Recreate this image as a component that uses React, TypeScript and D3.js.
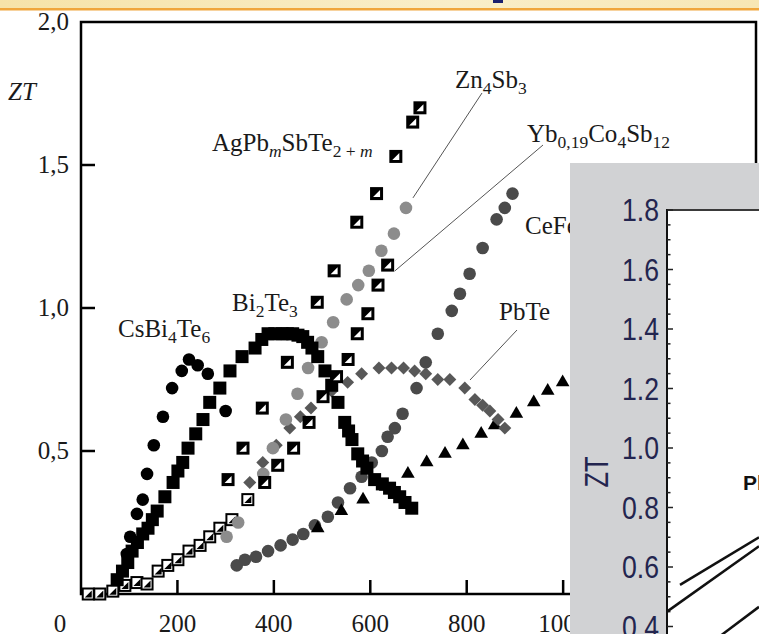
import React from 'react'
import * as d3 from 'd3'

const W = 759
const H = 634

// main chart data: [T (K), ZT]
const csBi4Te6 = [[95, 0.14], [102, 0.2], [116, 0.28], [128, 0.33], [137, 0.42], [151, 0.52], [170, 0.62], [189, 0.72], [209, 0.78], [224, 0.82], [242, 0.8], [263, 0.77], [300, 0.64]]
const bi2Te3 = [[75, 0.05], [86, 0.08], [97, 0.11], [106, 0.15], [117, 0.18], [128, 0.21], [139, 0.23], [148, 0.26], [158, 0.29], [174, 0.34], [191, 0.39], [201, 0.43], [211, 0.46], [222, 0.51], [238, 0.56], [253, 0.61], [267, 0.67], [288, 0.72], [309, 0.78], [334, 0.83], [361, 0.86], [375, 0.89], [388, 0.91], [402, 0.91], [417, 0.91], [428, 0.91], [439, 0.91], [450, 0.905], [460, 0.9], [470, 0.88], [479, 0.86], [491, 0.83], [506, 0.78], [520, 0.73], [533, 0.67], [547, 0.6], [555, 0.57], [562, 0.54], [574, 0.49], [584, 0.465], [593, 0.44], [609, 0.4], [625, 0.385], [640, 0.37], [650, 0.355], [661, 0.34], [672, 0.32], [686, 0.3]]
const lowSquares = [[15, 0], [39, 0], [66, 0.01], [91, 0.03], [116, 0.04], [137, 0.035], [160, 0.08], [180, 0.1], [201, 0.12], [224, 0.15], [247, 0.17], [267, 0.2], [288, 0.23], [313, 0.26], [346, 0.33]]
const agPbSbTe = [[305, 0.4], [336, 0.51], [376, 0.65], [428, 0.81], [490, 1.02], [525, 1.13], [572, 1.3], [613, 1.4], [653, 1.53], [688, 1.65], [703, 1.7]]
const ybCoSb = [[381, 0.39], [408, 0.45], [441, 0.51], [473, 0.6], [502, 0.69], [530, 0.76], [554, 0.82], [573, 0.91], [595, 0.98], [616, 1.08], [636, 1.15]]
const zn4Sb3 = [[302, 0.2], [326, 0.25], [378, 0.42], [398, 0.51], [425, 0.61], [449, 0.7], [471, 0.79], [499, 0.88], [523, 0.95], [551, 1.03], [575, 1.08], [597, 1.13], [623, 1.2], [649, 1.26], [674, 1.35]]
const pbTe = [[350, 0.39], [377, 0.46], [405, 0.52], [433, 0.58], [455, 0.62], [477, 0.65], [520, 0.71], [553, 0.74], [582, 0.77], [618, 0.79], [644, 0.79], [669, 0.79], [692, 0.78], [715, 0.77], [740, 0.75], [765, 0.75], [796, 0.72], [817, 0.68], [833, 0.66], [848, 0.64], [865, 0.61], [879, 0.58]]
const ceFeSb = [[323, 0.1], [340, 0.12], [363, 0.13], [388, 0.15], [414, 0.17], [439, 0.19], [461, 0.21], [485, 0.24], [512, 0.27], [533, 0.32], [558, 0.37], [582, 0.41], [603, 0.46], [624, 0.5], [636, 0.55], [651, 0.58], [667, 0.63], [696, 0.72], [715, 0.81], [740, 0.91], [769, 0.99], [786, 1.05], [806, 1.12], [833, 1.21], [862, 1.31], [879, 1.35], [895, 1.4]]
const triangles = [[491, 0.23], [540, 0.29], [585, 0.33], [632, 0.375], [678, 0.42], [717, 0.46], [755, 0.49], [792, 0.52], [830, 0.56], [858, 0.59], [903, 0.63], [939, 0.67], [968, 0.71], [999, 0.74]]

const xTicks = [200, 400, 600, 800, 1000, 1200]
const xTickLabels = [200, 400, 600, 800, 1000]
const yTicks = [0.5, 1.0, 1.5, 2.0]
const yTickLabels = ['0,5', '1,0', '1,5', '2,0']

// inset (second picture pasted over the right side)
const insetTicks = [0.4, 0.6, 0.8, 1.0, 1.2, 1.4, 1.6, 1.8]
const insetLineA = [[326, 0.54], [484, 0.7]]
const insetLineB = [[300, 0.45], [484, 0.67]]
const insetLineC = [[400, 0.36], [484, 0.466]]

const x = d3.scaleLinear().domain([0, 1400]).range([81, 756])
const y = d3.scaleLinear().domain([0, 2]).range([594, 22])
const ix = d3.scaleLinear().domain([300, 900]).range([667, 967])
const iy = d3.scaleLinear().domain([0.4, 1.8]).range([626.5, 210])

const SERIF = '"Liberation Serif", "Times New Roman", serif'
const SANS = '"Liberation Sans", Arial, sans-serif'

type Part = [string, string?]

function Formula({ px, py, parts, size = 25 }: { px: number; py: number; parts: Part[]; size?: number }) {
  let shift = 0
  return (
    <text x={px} y={py} fontFamily={SERIF} fontSize={size} fill="#1a1a1a">
      {parts.map(([t, kind], i) => {
        const sub = kind === 'sub' || kind === 'subi'
        const target = sub ? size * 0.22 : 0
        const dy = target - shift
        shift = target
        return (
          <tspan key={i} dy={dy} fontSize={sub ? size * 0.7 : size}
            fontStyle={kind === 'i' || kind === 'subi' ? 'italic' : 'normal'}>{t}</tspan>
        )
      })}
    </text>
  )
}

const S = 13
function HalfSquare({ cx, cy, inverted }: { cx: number; cy: number; inverted?: boolean }) {
  const a = cx - S / 2, b = cy - S / 2, m = 3
  if (inverted) {
    return (
      <g>
        <rect x={a + 1} y={b + 1} width={S - 2} height={S - 2} fill="#fff" stroke="#000" strokeWidth={2} />
        <path d={`M${a + S - m},${b + m}L${a + S - m},${b + S - m}L${a + m},${b + S - m}Z`} fill="#000" />
      </g>
    )
  }
  return (
    <g>
      <rect x={a} y={b} width={S} height={S} fill="#000" />
      <path d={`M${a + S - m},${b + m}L${a + S - m},${b + S - m}L${a + m},${b + S - m}Z`} fill="#fff" />
    </g>
  )
}

const diamond = d3.symbol().type(d3.symbolSquare).size(84)()
const triangle = d3.symbol().type(d3.symbolTriangle).size(80)()

export default function App() {
  const line = d3.line().x(d => ix(d[0])).y(d => iy(d[1]))
  const minorTicks = d3.range(0.4, 1.801, 0.05)

  return (
    <svg width={W} height={H} style={{ position: 'absolute', left: 0, top: 0, background: '#fff' }}>
      <defs>
        <linearGradient id="banner" x1="0" x2="1" y1="0" y2="0">
          <stop offset="0%" stopColor="#f6e3a8" />
          <stop offset="60%" stopColor="#f9eec9" />
          <stop offset="100%" stopColor="#f7e7b4" />
        </linearGradient>
        <clipPath id="insetClip">
          <rect x={667} y={210} width={W - 667} height={H - 210} />
        </clipPath>
        <clipPath id="leftOfInset">
          <rect x={0} y={0} width={570} height={H} />
        </clipPath>
      </defs>

      {/* slide header strip */}
      <rect x={0} y={0} width={W} height={8} fill="url(#banner)" />
      <rect x={0} y={8} width={W} height={2.5} fill="#f0a63c" />
      <rect x={493} y={0} width={10} height={3} fill="#1b1f6e" />

      {/* frame */}
      <rect x={x(0)} y={y(2)} width={x(1400) - x(0)} height={y(0) - y(2)} fill="none" stroke="#000" strokeWidth={2.5} />
      {yTicks.slice(0, 3).map(v => (
        <line key={v} x1={x(0)} x2={x(0) + 14} y1={y(v)} y2={y(v)} stroke="#000" strokeWidth={2.5} />
      ))}
      {xTicks.map(v => (
        <line key={v} x1={x(v)} x2={x(v)} y1={y(0)} y2={y(0) - 14} stroke="#000" strokeWidth={2.5} />
      ))}
      {yTicks.map((v, i) => (
        <text key={v} x={69} y={y(v) + 8} textAnchor="end" fontFamily={SERIF} fontSize={25} fill="#1a1a1a">{yTickLabels[i]}</text>
      ))}
      <text x={60} y={632} textAnchor="middle" fontFamily={SERIF} fontSize={25} fill="#1a1a1a">0</text>
      <g clipPath="url(#leftOfInset)">
        {xTickLabels.map(v => (
          <text key={v} x={x(v)} y={632} textAnchor="middle" fontFamily={SERIF} fontSize={25} fill="#1a1a1a">{v}</text>
        ))}
      </g>
      <text x={8} y={100} fontFamily={SERIF} fontSize={25} fontStyle="italic" fill="#1a1a1a">ZT</text>

      {/* data */}
      {lowSquares.map((d, i) => <HalfSquare key={i} cx={x(d[0])} cy={y(d[1])} inverted />)}
      {ceFeSb.map((d, i) => <circle key={i} cx={x(d[0])} cy={y(d[1])} r={6.3} fill="#4a4a4a" />)}
      {triangles.map((d, i) => <path key={i} d={triangle} transform={`translate(${x(d[0])},${y(d[1])})`} fill="#000" />)}
      {pbTe.map((d, i) => <path key={i} d={diamond} transform={`translate(${x(d[0])},${y(d[1])}) rotate(45)`} fill="#585858" />)}
      {zn4Sb3.map((d, i) => <circle key={i} cx={x(d[0])} cy={y(d[1])} r={6.3} fill="#8c8c8c" />)}
      {bi2Te3.map((d, i) => <rect key={i} x={x(d[0]) - 6.5} y={y(d[1]) - 6.5} width={13} height={13} fill="#000" />)}
      {csBi4Te6.map((d, i) => <circle key={i} cx={x(d[0])} cy={y(d[1])} r={6.3} fill="#000" />)}
      {agPbSbTe.map((d, i) => <HalfSquare key={i} cx={x(d[0])} cy={y(d[1])} />)}
      {ybCoSb.map((d, i) => <HalfSquare key={i} cx={x(d[0])} cy={y(d[1])} />)}

      {/* leader lines */}
      <line x1={482} y1={93} x2={x(674) + 7} y2={y(1.35) - 10} stroke="#555" strokeWidth={1} />
      <line x1={543} y1={145} x2={x(636) + 7} y2={y(1.15) + 6} stroke="#555" strokeWidth={1} />
      <line x1={517} y1={330} x2={470} y2={380} stroke="#555" strokeWidth={1} />

      {/* labels */}
      <Formula px={212} py={151} parts={[['AgPb'], ['m', 'subi'], ['SbTe'], ['2 + ', 'sub'], ['m', 'subi']]} />
      <Formula px={455} py={88} parts={[['Zn'], ['4', 'sub'], ['Sb'], ['3', 'sub']]} />
      <Formula px={527} py={142} parts={[['Yb'], ['0,19', 'sub'], ['Co'], ['4', 'sub'], ['Sb'], ['12', 'sub']]} />
      <g clipPath="url(#leftOfInset)">
        <Formula px={525} py={234} parts={[['CeFe'], ['4', 'sub'], ['Sb'], ['12', 'sub']]} />
      </g>
      <Formula px={232} py={311} parts={[['Bi'], ['2', 'sub'], ['Te'], ['3', 'sub']]} />
      <Formula px={118} py={337} parts={[['CsBi'], ['4', 'sub'], ['Te'], ['6', 'sub']]} />
      <Formula px={499} py={320} parts={[['PbTe']]} />

      {/* inset picture */}
      <rect x={570} y={163} width={W - 570} height={H - 163} fill="#d1d2d4" />
      <rect x={667} y={210} width={W - 667} height={H - 210} fill="#fff" />
      <line x1={667} x2={W} y1={210} y2={210} stroke="#3a3a3a" strokeWidth={2} />
      <line x1={667} x2={667} y1={209} y2={H} stroke="#111" strokeWidth={2} />
      {minorTicks.map((v, i) => (
        <line key={i} x1={667} x2={667 + (i % 4 === 0 ? 6 : 3.5)} y1={iy(v)} y2={iy(v)} stroke="#222" strokeWidth={1.5} />
      ))}
      {insetTicks.map(v => (
        <text key={v} x={659} y={iy(v) + 11} textAnchor="end" fontFamily={SANS} fontSize={31}
          textLength={37} lengthAdjust="spacingAndGlyphs" fill="#23254f">{v.toFixed(1)}</text>
      ))}
      <text transform="translate(608,472) rotate(-90)" textAnchor="middle" fontFamily={SANS} fontSize={33}
        textLength={31} lengthAdjust="spacingAndGlyphs" fill="#23254f">ZT</text>
      <g clipPath="url(#insetClip)">
        {[insetLineA, insetLineB, insetLineC].map((l, i) => (
          <path key={i} d={line(l as [number, number][]) || ''} fill="none" stroke="#111" strokeWidth={2.5} />
        ))}
        <text x={743} y={490} fontFamily={SANS} fontWeight="bold" fontSize={21} fill="#111">PbTe</text>
      </g>
    </svg>
  )
}
